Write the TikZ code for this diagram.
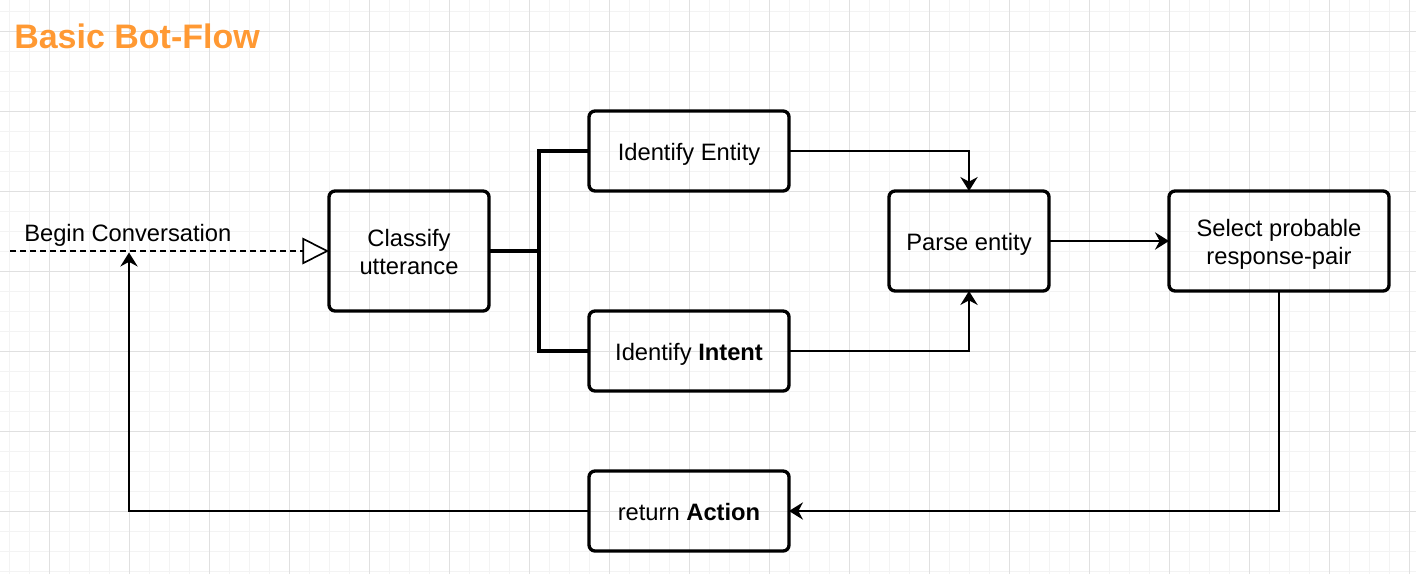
\documentclass[tikz,border=0pt]{standalone}
\usepackage{fontspec}
\setmainfont{Liberation Sans}
\usetikzlibrary{positioning}
\usetikzlibrary{arrows.meta}
\definecolor{gridminor}{HTML}{F3F3F3}
\definecolor{gridmajor}{HTML}{E0E0E0}
\definecolor{titleorange}{HTML}{FF9933}

\begin{document}
\begin{tikzpicture}[x=0.75pt, y=-0.75pt,
			box/.style={draw, line width=2.5pt, rounded corners=4.5pt, outer sep=0pt, align=center, font=\fontsize{17.8}{20.7}\selectfont, text height=17.5pt, text depth=3.5pt},
			twoline/.style={text height=38.5pt, text depth=3.5pt},
			flow/.style={line width=1.25pt, -{Stealth[length=10.5pt, width=13pt, inset=3.5pt]}},
			branch/.style={line width=2.5pt}]
			\useasboundingbox (0,0) rectangle (1416,574);
			\foreach \x in {9,29,...,1409} \draw[gridminor, line width=0.75pt] (\x,0) -- (\x,574);
			\foreach \y in {11.5,31.5,...,571.5} \draw[gridminor, line width=0.75pt] (0,\y) -- (1416,\y);
			\foreach \x in {49,129,...,1409} \draw[gridmajor, line width=0.75pt] (\x,0) -- (\x,574);
			\foreach \y in {31.5,111.5,...,571.5} \draw[gridmajor, line width=0.75pt] (0,\y) -- (1416,\y);
			
			\node[anchor=base west, inner sep=0pt, text=titleorange, font=\bfseries\fontsize{25.5}{30}\selectfont] (title) at (14,48.5) {Basic Bot-Flow};
			
			\node[box, twoline, minimum width=120pt, minimum height=90pt] (classify) at (409,251) {Classify\\utterance};
			\node[box, minimum width=150pt, minimum height=60pt, above right=0pt and 75pt of classify] (entity) {Identify Entity};
			\node[box, minimum width=150pt, minimum height=60pt, below right=0pt and 75pt of classify] (intent) {Identify \textbf{Intent}};
			\node[box, minimum width=120pt, minimum height=75pt, below right=0pt and 75pt of entity] (parse) {Parse entity};
			\node[box, twoline, minimum width=165pt, minimum height=75pt, right=90pt of parse] (select) {Select probable\\response-pair};
			\node[box, minimum width=150pt, minimum height=60pt, below=60pt of intent] (action) {return \textbf{Action}};
			
			\node[anchor=base west, inner sep=0pt, font=\fontsize{17.8}{21}\selectfont] (begin) at (24,241) {Begin Conversation};
			\coordinate (start) at (10,251);
			\coordinate[right=37.5pt of classify.east] (fork);
			\coordinate (ret) at (129,252.5);
			
			\draw[line width=1.25pt, dash pattern=on 4.5pt off 3pt, -{Triangle[open, fill=white, length=20pt, width=20pt]}] (start) -- (classify.west);
			\draw[branch] (classify.east) -- (fork) |- (entity.west);
			\draw[branch] (fork) |- (intent.west);
			\draw[flow] (entity.east) -| (parse.north);
			\draw[flow] (intent.east) -| (parse.south);
			\draw[flow] (parse.east) -- (select.west);
			\draw[flow] (select.south) |- (action.east);
			\draw[flow] (action.west) -| (ret);
			\end{tikzpicture}
\end{document}
